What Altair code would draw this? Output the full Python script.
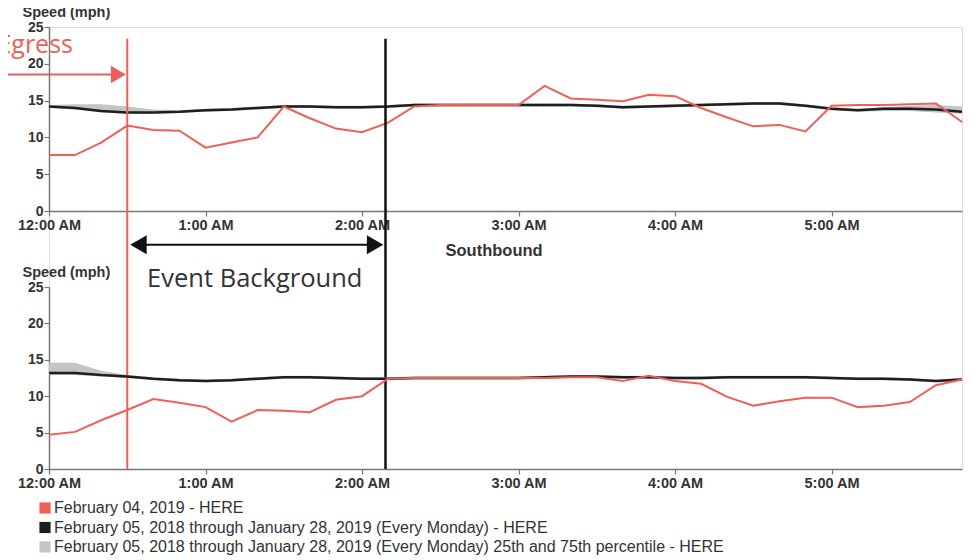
import altair as alt
import pandas as pd

# ---------------- data ----------------
minutes = list(range(0, 360, 10))
tick_minutes = [0, 60, 120, 180, 240, 300]
tick_labels = ["12:00 AM", "1:00 AM", "2:00 AM", "3:00 AM", "4:00 AM", "5:00 AM"]
y_ticks = [0, 5, 10, 15, 20, 25]

series_names = [
    "February 04, 2019 - HERE",
    "February 05, 2018 through January 28, 2019 (Every Monday) - HERE",
    "February 05, 2018 through January 28, 2019 (Every Monday) 25th and 75th percentile - HERE",
]
series_colors = ["#EF5F57", "#1E1E1E", "#C4C4C4"]

north_today = [7.6, 7.6, 9.3, 11.6, 11.0, 10.9, 8.6, 9.3, 10.0, 14.2,
               12.6, 11.2, 10.7, 12.0, 14.2, 14.4, 14.4, 14.4, 14.4, 17.0,
               15.3, 15.1, 14.9, 15.8, 15.6, 14.0, 12.7, 11.5, 11.7, 10.8,
               14.3, 14.4, 14.4, 14.5, 14.6, 12.1]
north_avg = [14.2, 14.0, 13.6, 13.4, 13.4, 13.5, 13.7, 13.8, 14.0, 14.2,
             14.2, 14.1, 14.1, 14.2, 14.4, 14.4, 14.4, 14.4, 14.4, 14.4,
             14.4, 14.3, 14.1, 14.2, 14.3, 14.4, 14.5, 14.6, 14.6, 14.3,
             13.9, 13.7, 13.9, 13.9, 13.8, 13.5]
north_p75 = [14.4, 14.5, 14.5, 14.2, 13.8, 13.7, 13.9, 14.0, 14.2, 14.4,
             14.4, 14.3, 14.3, 14.4, 14.6, 14.6, 14.6, 14.6, 14.6, 14.6,
             14.6, 14.5, 14.3, 14.4, 14.5, 14.6, 14.7, 14.8, 14.8, 14.5,
             14.1, 13.9, 14.1, 14.3, 14.4, 14.2]
north_p25 = [14.0, 13.8, 13.4, 13.2, 13.2, 13.3, 13.5, 13.6, 13.8, 14.0,
             14.0, 13.9, 13.9, 14.0, 14.2, 14.2, 14.2, 14.2, 14.2, 14.2,
             14.2, 14.1, 13.9, 14.0, 14.1, 14.2, 14.3, 14.4, 14.4, 14.1,
             13.7, 13.5, 13.6, 13.6, 13.4, 13.2]

south_today = [4.7, 5.1, 6.7, 8.1, 9.6, 9.1, 8.5, 6.5, 8.1, 8.0,
               7.8, 9.5, 10.0, 12.4, 12.5, 12.5, 12.5, 12.5, 12.5, 12.5,
               12.6, 12.6, 12.1, 12.8, 12.1, 11.7, 9.9, 8.7, 9.3, 9.8,
               9.8, 8.5, 8.7, 9.2, 11.5, 12.3]
south_avg = [13.2, 13.2, 12.9, 12.7, 12.4, 12.2, 12.1, 12.2, 12.4, 12.6,
             12.6, 12.5, 12.4, 12.4, 12.5, 12.5, 12.5, 12.5, 12.5, 12.6,
             12.7, 12.7, 12.6, 12.6, 12.5, 12.5, 12.6, 12.6, 12.6, 12.6,
             12.5, 12.4, 12.4, 12.3, 12.1, 12.3]
south_p75 = [14.6, 14.6, 13.5, 12.9, 12.6, 12.4, 12.3, 12.4, 12.6, 12.8,
             12.8, 12.7, 12.6, 12.6, 12.7, 12.7, 12.7, 12.7, 12.7, 12.8,
             12.9, 12.9, 12.8, 12.8, 12.7, 12.7, 12.8, 12.8, 12.8, 12.8,
             12.7, 12.6, 12.6, 12.5, 12.3, 12.5]
south_p25 = [12.9, 12.9, 12.7, 12.5, 12.2, 12.0, 11.9, 12.0, 12.2, 12.4,
             12.4, 12.3, 12.2, 12.2, 12.3, 12.3, 12.3, 12.3, 12.3, 12.4,
             12.5, 12.5, 12.4, 12.4, 12.3, 12.3, 12.4, 12.4, 12.4, 12.4,
             12.3, 12.2, 12.2, 12.1, 11.9, 12.1]

# annotation anchors (minutes after midnight, mph)
egress_minute = 30
event_end_minute = 129
annot_text_egress = "Egress"
annot_text_event = "Event Background"
panel_title_south = "Southbound"

# ---------------- styling ----------------
W, H = 913, 442
TOP_RANGE = [184, 0]
BOT_RANGE = [442, 260]
RED = "#EF5F57"
AXIS_FONT = "Liberation Sans"
ANNOT_FONT = "Open Sans"

label_expr = "[" + ",".join("'%s'" % s for s in tick_labels) + "][round(datum.value/60)]"


def x_enc(offset):
    return alt.X(
        "m:Q",
        scale=alt.Scale(domain=[0, 350], nice=False, zero=False),
        axis=alt.Axis(
            orient="bottom", offset=offset, values=tick_minutes, labelExpr=label_expr,
            title=None, grid=False, domainColor="#777", domainWidth=1.5,
            tickColor="#777", tickWidth=1.2, tickSize=5, labelFont=AXIS_FONT,
            labelFontWeight="bold", labelFontSize=14.5, labelColor="#333",
            labelPadding=2, labelFlush=False, labelOverlap=False,
        ),
    )


def y_enc(field, rng, title_y):
    return alt.Y(
        field,
        scale=alt.Scale(domain=[0, 25], nice=False, range=rng),
        axis=alt.Axis(
            orient="left", values=y_ticks, title="Speed (mph)", titleAngle=0,
            titleAlign="left", titleBaseline="bottom", titleX=-27, titleY=title_y,
            titleFont=AXIS_FONT, titleFontSize=14.5, titleFontWeight="bold",
            titleColor="#333", grid=False, domainColor="#777", domainWidth=1.5,
            tickColor="#777", tickWidth=1.2, tickSize=5, labelFont=AXIS_FONT,
            labelFontWeight="bold", labelFontSize=14, labelColor="#333", labelPadding=1,
        ),
    )


fill_enc = alt.Fill(
    "series:N",
    scale=alt.Scale(domain=series_names, range=series_colors),
    legend=alt.Legend(
        title=None, orient="none", legendX=-12, legendY=473, symbolType="square",
        symbolSize=125, symbolStrokeWidth=0, symbolOpacity=1, labelFont=AXIS_FONT,
        labelFontSize=16, labelColor="#333", rowPadding=3.5, labelOffset=1,
        padding=0, labelLimit=0,
    ),
)


def panel(today, avg, p25, p75, rng, x_offset, title_y):
    df = pd.DataFrame({"m": minutes, "today": today, "avg": avg,
                       "p25": p25, "p75": p75, "series": series_names[2]})
    base = alt.Chart(df)
    band = base.mark_area(opacity=1, clip=False).encode(
        x=x_enc(x_offset), y=y_enc("p25:Q", rng, title_y), y2="p75:Q", fill=fill_enc)
    avg_line = base.mark_line(color=series_colors[1], strokeWidth=2.5).encode(
        x=x_enc(x_offset), y=y_enc("avg:Q", rng, title_y))
    today_line = base.mark_line(color=series_colors[0], strokeWidth=2).encode(
        x=x_enc(x_offset), y=y_enc("today:Q", rng, title_y))
    return [band, avg_line, today_line]


top_layers = panel(north_today, north_avg, north_p25, north_p75, TOP_RANGE, -(BOT_RANGE[0] - TOP_RANGE[0]), -8)
bot_layers = panel(south_today, south_avg, south_p25, south_p75, BOT_RANGE, 0, BOT_RANGE[1] - 8)

TX = lambda: x_enc(-(BOT_RANGE[0] - TOP_RANGE[0]))
TY = lambda f: y_enc(f, TOP_RANGE, -8)
BX = lambda: x_enc(0)
BY = lambda f: y_enc(f, BOT_RANGE, BOT_RANGE[1] - 8)

# vertical event markers (span both panels)
vrules = pd.DataFrame({"m": [egress_minute, event_end_minute], "y": [23.4, 23.4]})
red_rule = alt.Chart(vrules.iloc[[0]]).mark_rule(color=RED, strokeWidth=2).encode(
    x=TX(), y=TY("y:Q"), y2=alt.value(H))
black_rule = alt.Chart(vrules.iloc[[1]]).mark_rule(color="#111111", strokeWidth=2.5).encode(
    x=TX(), y=TY("y:Q"), y2=alt.value(H))

# Egress annotation
egress_df = pd.DataFrame({"m": [9.2], "y": [21.4], "t": [annot_text_egress]})
egress_text = alt.Chart(egress_df).mark_text(
    align="right", baseline="alphabetic", font=ANNOT_FONT, fontSize=25, color=RED, clip=False
).encode(x=TX(), y=TY("y:Q"), text="t:N")

arrow_df = pd.DataFrame({"m": [-22], "m2": [26], "y": [18.55]})
arrow_line = alt.Chart(arrow_df).mark_rule(color=RED, strokeWidth=2).encode(
    x=TX(), x2="m2:Q", y=TY("y:Q"))
arrow_head_df = pd.DataFrame({"m": [26.6], "y": [18.55]})
arrow_head = alt.Chart(arrow_head_df).mark_point(
    shape="triangle-right", filled=True, size=300, color=RED, opacity=1
).encode(x=TX(), y=TY("y:Q"))

# Event background double arrow + label (in bottom panel coordinates)
dbl_df = pd.DataFrame({"m": [33], "m2": [126], "y": [30.8]})
dbl_line = alt.Chart(dbl_df).mark_rule(color="#111111", strokeWidth=2).encode(
    x=BX(), x2="m2:Q", y=BY("y:Q"))
heads_df = pd.DataFrame({"m": [34.3, 125.0], "y": [30.8, 30.8]})
head_l = alt.Chart(heads_df.iloc[[0]]).mark_point(
    shape="triangle-left", filled=True, size=360, color="#111111", opacity=1
).encode(x=BX(), y=BY("y:Q"))
head_r = alt.Chart(heads_df.iloc[[1]]).mark_point(
    shape="triangle-right", filled=True, size=360, color="#111111", opacity=1
).encode(x=BX(), y=BY("y:Q"))

event_df = pd.DataFrame({"m": [37.6], "y": [25.0], "t": [annot_text_event]})
event_text = alt.Chart(event_df).mark_text(
    align="left", baseline="alphabetic", font=ANNOT_FONT, fontSize=25.5, color="#333333", clip=False
).encode(x=BX(), y=BY("y:Q"), text="t:N")

south_df = pd.DataFrame({"m": [152], "y": [29.2], "t": [panel_title_south]})
south_text = alt.Chart(south_df).mark_text(
    align="left", baseline="alphabetic", font=AXIS_FONT, fontWeight="bold",
    fontSize=16.5, color="#333333", clip=False
).encode(x=BX(), y=BY("y:Q"), text="t:N")

top = alt.layer(*top_layers, red_rule, black_rule, egress_text, arrow_line, arrow_head)
bottom = alt.layer(*bot_layers, dbl_line, head_l, head_r, event_text, south_text)

chart = (
    alt.layer(top, bottom)
    .resolve_scale(x="independent", y="independent")
    .properties(
        width=W, height=H,
        autosize=alt.AutoSizeParams(type="none"),
        padding={"left": 41, "top": 19, "right": 5, "bottom": 92},
    )
    .configure_view(stroke=None)
    .configure(background="white")
)

chart.save("out.html", embed_options={"renderer": "svg", "actions": False})
